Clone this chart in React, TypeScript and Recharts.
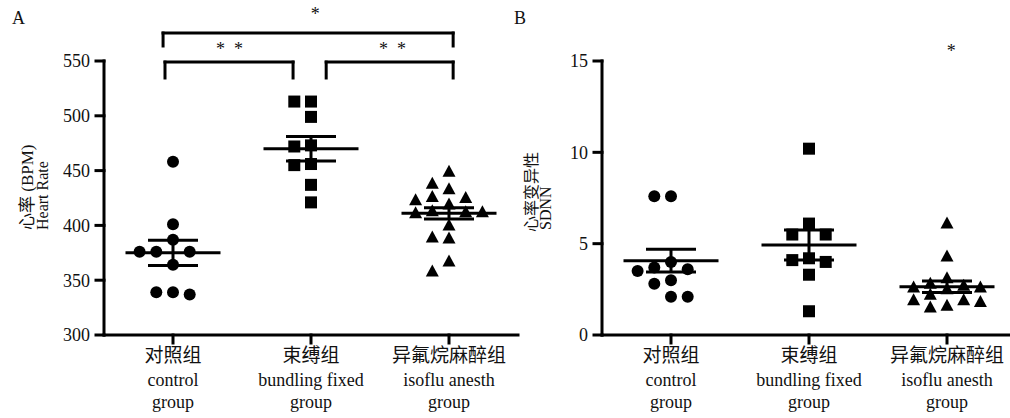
import React from 'react';
import { ScatterChart, Scatter, XAxis, YAxis, ErrorBar, ReferenceLine, ReferenceDot } from 'recharts';

// groups (x axis)
const groupsCn = ['对照组', '束缚组', '异氟烷麻醉组'];
const groupsEn = ['control', 'bundling fixed', 'isoflu anesth'];
const groupsEn2 = ['group', 'group', 'group'];

// A: heart rate (BPM)
const hrControl = [458, 401, 387, 376, 376, 376, 364, 339, 339, 337];
const hrBundling = [513, 513, 499, 473, 472, 456, 455, 437, 421];
const hrIsoflu = [449, 438, 433, 426, 425, 423, 419, 413, 412, 412, 411, 400, 389, 388, 367, 358];
const hrMean = [375, 470, 411];
const hrSem = [11.5, 11.2, 5.2];
const hrTicks = [300, 350, 400, 450, 500, 550];

// B: SDNN
const sdControl = [7.6, 7.6, 4.0, 3.7, 3.6, 3.5, 3.0, 2.8, 2.1, 2.1];
const sdBundling = [10.2, 6.1, 5.5, 5.5, 4.2, 4.1, 4.0, 3.3, 1.3];
const sdIsoflu = [6.1, 4.3, 3.1, 2.8, 2.7, 2.6, 2.6, 2.5, 2.2, 1.9, 1.9, 1.8, 1.6, 1.5];
const sdMean = [4.07, 4.93, 2.64];
const sdSem = [0.62, 0.82, 0.32];
const sdTicks = [0, 5, 10, 15];

// significance brackets (x in group units, y in value units)
const hrBrackets = [
  { from: -0.072, to: 2.03, y: 575.5, end: 563.7, text: '*', tx: 1.03, ty: 594.7 },
  { from: -0.058, to: 0.87, y: 549, end: 534.5, text: '*  *', tx: 0.41, ty: 562.8 },
  { from: 1.11, to: 2.03, y: 549, end: 534.5, text: '*  *', tx: 1.59, ty: 562.8 },
];
const sdStars = [{ text: '*', tx: 2.03, ty: 15.7 }];

const SERIF = '"Liberation Serif", "Noto Sans CJK SC", serif';
const INK = '#111';
const PLOT_H = 274;
const BAND = 138;
const SLOT = 16.7 / BAND;

// simple beeswarm: spread points sideways when they would overlap
function swarm(values: number[], group: number, pxPerUnit: number) {
  const placed: { slot: number; py: number }[] = [];
  const order = [0, -1, 1, -2, 2];
  const sorted = [...values].sort((a, b) => b - a);
  return sorted.map((v) => {
    const py = v * pxPerUnit;
    let best = 0;
    let bestGap = -1;
    for (const s of order) {
      const gaps = placed.filter((p) => p.slot === s).map((p) => Math.abs(p.py - py));
      const gap = gaps.length ? Math.min(...gaps) : Infinity;
      if (gap >= 13) { best = s; break; }
      if (gap > bestGap) { best = s; bestGap = gap; }
    }
    placed.push({ slot: best, py });
    return { x: group + best * SLOT, y: v };
  });
}

const Dot = (p: any) => <circle cx={p.cx} cy={p.cy} r={6} fill="#000" />;
const Sq = (p: any) => <rect x={p.cx - 6} y={p.cy - 6} width={12} height={12} fill="#000" />;
const Tri = (p: any) => (
  <polygon points={`${p.cx},${p.cy - 7} ${p.cx + 6.5},${p.cy + 5} ${p.cx - 6.5},${p.cy + 5}`} fill="#000" />
);
const MeanLine = (p: any) => (
  <line x1={p.cx - 47.5} x2={p.cx + 47.5} y1={p.cy} y2={p.cy} stroke="#000" strokeWidth={3} />
);
const starShape = (text: string) => (p: any) => (
  <text x={p.cx} y={p.cy} dy="0.47em" textAnchor="middle" fontSize={18} fontFamily={SERIF} fill={INK}
    style={{ whiteSpace: 'pre' }}>{text}</text>
);

function GroupTick(props: any) {
  const { x, y, payload } = props;
  const i = payload.value;
  return (
    <g fontFamily={SERIF} fill={INK} textAnchor="middle">
      <text x={x} y={y + 17} fontSize={19}>{groupsCn[i]}</text>
      <text x={x} y={y + 41} fontSize={18}>{groupsEn[i]}</text>
      <text x={x} y={y + 63} fontSize={18}>{groupsEn2[i]}</text>
    </g>
  );
}

const axisStyle = { stroke: '#000', strokeWidth: 3, strokeLinecap: 'square' as const };

function Panel(props: any) {
  const { sets, mean, sem, domain, ticks, brackets, stars, yWidth, right } = props;
  const ppu = PLOT_H / (domain[1] - domain[0]);
  const shapes = [Dot, Sq, Tri];
  return (
    <ScatterChart width={530} height={418} margin={{ top: 61, right, bottom: 0, left: 0 }}>
      <XAxis type="number" dataKey="x" domain={[-0.5, 2.5]} ticks={[0, 1, 2]} interval={0} height={83}
        tick={(t: any) => <GroupTick {...t} />} tickSize={8} tickMargin={2}
        axisLine={axisStyle} tickLine={axisStyle} allowDataOverflow />
      <YAxis type="number" dataKey="y" domain={domain} ticks={ticks} interval={0} width={yWidth}
        tickSize={8} tickMargin={6} tick={{ fontSize: 18, fill: INK, fontFamily: SERIF }}
        axisLine={axisStyle} tickLine={axisStyle} allowDataOverflow />
      {sets.map((vals: number[], i: number) => (
        <Scatter key={i} data={swarm(vals, i, ppu)} shape={shapes[i]} isAnimationActive={false} />
      ))}
      <Scatter data={mean.map((m: number, i: number) => ({ x: i, y: m, sem: sem[i] }))} shape={MeanLine} isAnimationActive={false}>
        <ErrorBar dataKey="sem" direction="y" width={25} strokeWidth={3} stroke="#000" isAnimationActive={false} />
      </Scatter>
      {brackets.map((b: any, i: number) => [
        <ReferenceLine key={`h${i}`} segment={[{ x: b.from, y: b.y }, { x: b.to, y: b.y }]} stroke="#000" strokeWidth={3} strokeLinecap="square" ifOverflow="visible" />,
        <ReferenceLine key={`l${i}`} segment={[{ x: b.from, y: b.y }, { x: b.from, y: b.end }]} stroke="#000" strokeWidth={3} strokeLinecap="square" ifOverflow="visible" />,
        <ReferenceLine key={`r${i}`} segment={[{ x: b.to, y: b.y }, { x: b.to, y: b.end }]} stroke="#000" strokeWidth={3} strokeLinecap="square" ifOverflow="visible" />,
      ])}
      {stars.map((s: any, i: number) => (
        <ReferenceDot key={`s${i}`} x={s.tx} y={s.ty} r={0} ifOverflow="visible" shape={starShape(s.text)} />
      ))}
    </ScatterChart>
  );
}

export default function App() {
  return (
    <div style={{ position: 'absolute', left: 0, top: 0, width: 1010, height: 418, overflow: 'hidden', background: '#fff' }}>
      <div style={{ position: 'absolute', left: 0, top: 0 }}>
        <Panel sets={[hrControl, hrBundling, hrIsoflu]} mean={hrMean} sem={hrSem} domain={[300, 550]} ticks={hrTicks}
          brackets={hrBrackets} stars={hrBrackets} yWidth={104} right={12} />
      </div>
      <div style={{ position: 'absolute', left: 500, top: 0 }}>
        <Panel sets={[sdControl, sdBundling, sdIsoflu]} mean={sdMean} sem={sdSem} domain={[0, 15]} ticks={sdTicks}
          brackets={[]} stars={sdStars} yWidth={102} right={14} />
      </div>
      <svg width={1010} height={418} style={{ position: 'absolute', left: 0, top: 0, pointerEvents: 'none' }} fontFamily={SERIF} fill={INK}>
        <text x={12} y={24} fontSize={18}>A</text>
        <text x={514} y={24} fontSize={18}>B</text>
        <text transform="translate(33,230) rotate(-90)" fontSize={17}>心率 (BPM)</text>
        <text transform="translate(48,230) rotate(-90)" fontSize={16}>Heart Rate</text>
        <text transform="translate(537,232) rotate(-90)" fontSize={16}>心率变异性</text>
        <text transform="translate(551,230) rotate(-90)" fontSize={16}>SDNN</text>
      </svg>
    </div>
  );
}
